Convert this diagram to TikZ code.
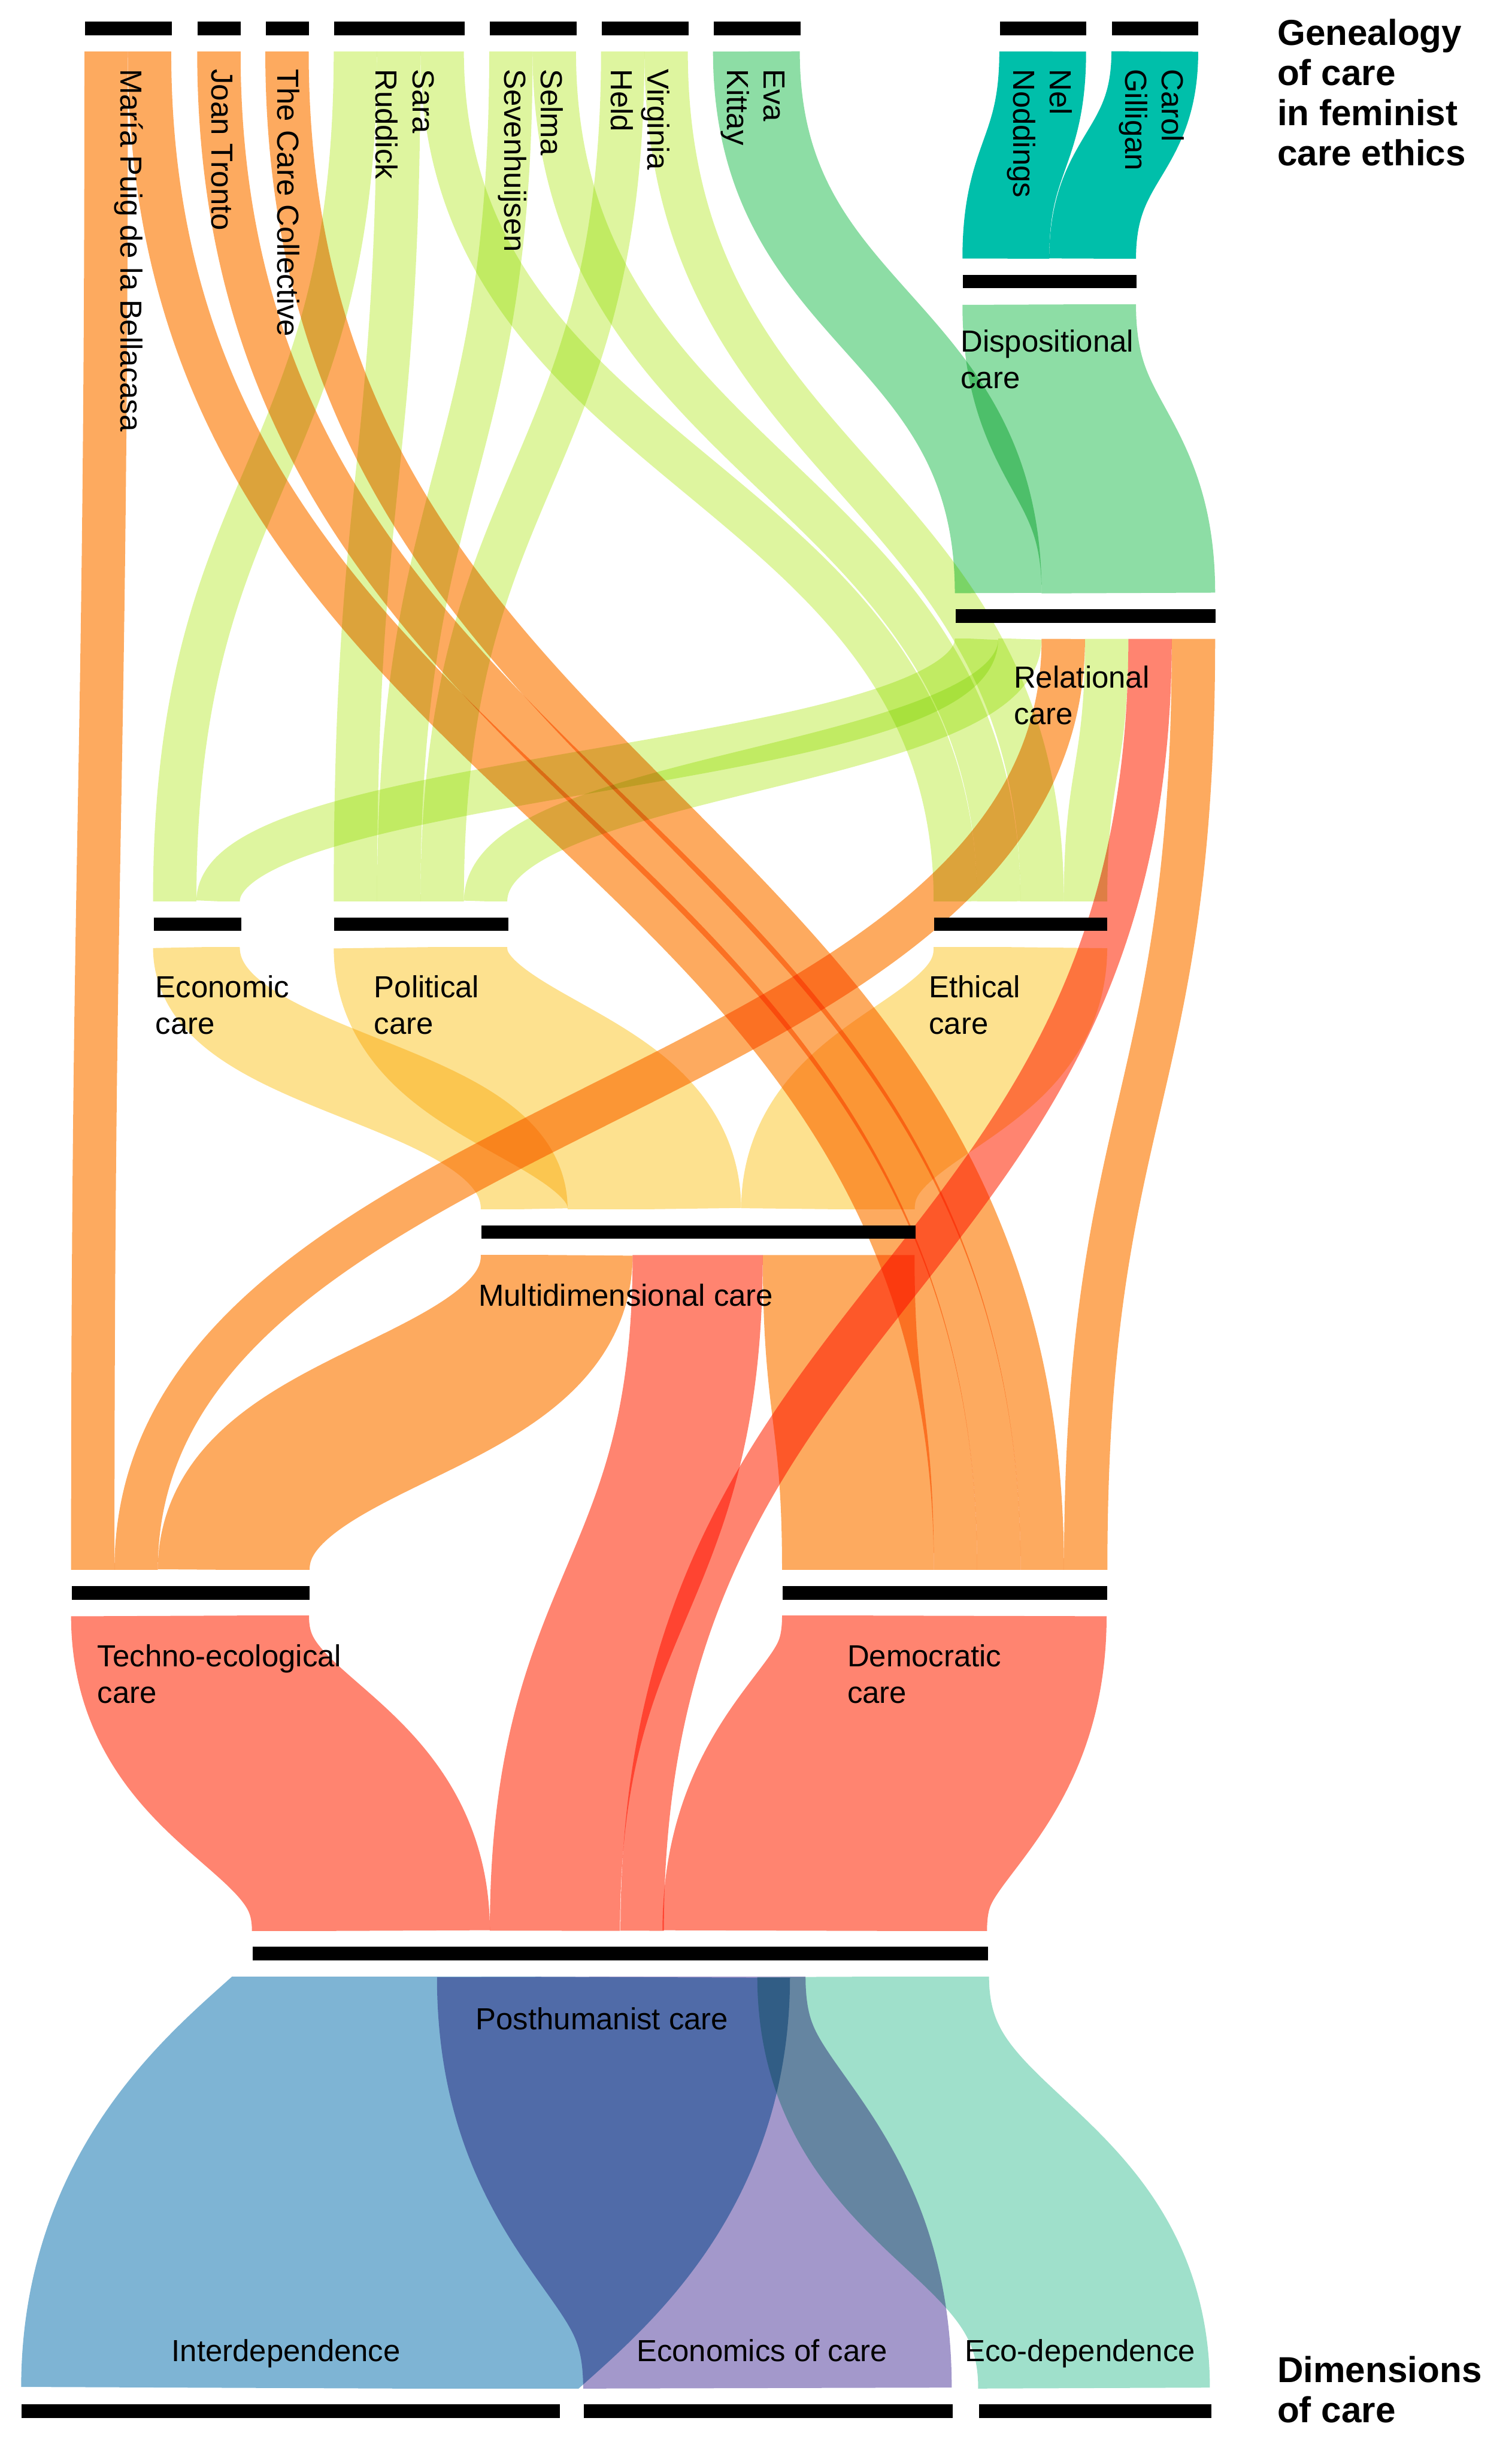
\documentclass[tikz,border=0pt]{standalone}
\usepackage{fontspec}
\setmainfont{Liberation Sans}
\usetikzlibrary{calc}
\definecolor{cteal}{RGB}{0,191,170}
\definecolor{cgreen}{RGB}{141,221,165}
\definecolor{clime}{RGB}{222,245,159}
\definecolor{cyellow}{RGB}{253,225,143}
\definecolor{corange}{RGB}{253,170,95}
\definecolor{csalmon}{RGB}{255,132,112}
\definecolor{cblue}{RGB}{126,180,212}
\definecolor{clilac}{RGB}{163,152,203}
\definecolor{cmint}{RGB}{159,224,203}
% colour, source, offset in source, target, offset in target, width
\newcommand{\ribbon}[6]{%
  \path (#2.south west) ++({#3+#6/2},10) coordinate (ra)
        (#4.north west) ++({#5+#6/2},-10) coordinate (rb)
        ($(ra)!0.5!(rb)$) coordinate (rm);
  \begin{scope}
    \clip ($(ra)+(-1000,0)$) rectangle ($(rb)+(1000,0)$);
    \draw[#1,line width=#6*0.5pt] (ra) .. controls (ra |- rm) and (rb |- rm) .. (rb);
  \end{scope}
}
\begin{document}
\begin{tikzpicture}[x=0.5pt,y=0.5pt,yscale=-1,
    bar/.style={fill=black,inner sep=0pt,minimum height=4.35pt,anchor=west},
    lbl/.style={anchor=north west,inner sep=0pt,align=left,font=\fontsize{9.8}{11.8}\selectfont},
    author/.style={lbl,rotate=-90},
    head/.style={anchor=north west,inner sep=0pt,align=left,font=\bfseries\fontsize{11.6}{12.9}\selectfont}]
\useasboundingbox (0,0) rectangle (972,1568);
% bars
\node[bar,minimum width=27.95pt] (maria) at (54.3,18.35) {};
\node[bar,minimum width=13.75pt] (tronto) at (126.8,18.35) {};
\node[bar,minimum width=13.9pt] (carecoll) at (170.6,18.35) {};
\node[bar,minimum width=41.85pt] (ruddick) at (214.6,18.35) {};
\node[bar,minimum width=27.95pt] (sevenhuijsen) at (314.6,18.35) {};
\node[bar,minimum width=27.9pt] (held) at (386.5,18.35) {};
\node[bar,minimum width=27.9pt] (kittay) at (458.5,18.35) {};
\node[bar,minimum width=27.8pt] (noddings) at (642.6,18.35) {};
\node[bar,minimum width=27.8pt] (gilligan) at (714.7,18.35) {};
\node[bar,minimum width=55.85pt] (disp) at (618.9,181) {};
\node[bar,minimum width=83.7pt] (relational) at (614,396) {};
\node[bar,minimum width=28.25pt] (economic) at (98.4,594.2) {};
\node[bar,minimum width=55.9pt] (political) at (214.6,594.2) {};
\node[bar,minimum width=55.6pt] (ethical) at (600.4,594.2) {};
\node[bar,minimum width=139.6pt] (multidim) at (309.2,792.1) {};
\node[bar,minimum width=76.5pt] (techno) at (45.7,1024) {};
\node[bar,minimum width=104.35pt] (democratic) at (502.9,1024) {};
\node[bar,minimum width=236.5pt] (posthuman) at (162,1256) {};
\node[bar,minimum width=173pt] (interdep) at (13.6,1550) {};
\node[bar,minimum width=118.7pt] (econcare) at (375,1550) {};
\node[bar,minimum width=74.75pt] (ecodep) at (629,1550) {};
% flows
\begin{scope}[blend mode=multiply]
\ribbon{cteal}{noddings}{0}{disp}{0}{55.8}
\ribbon{cteal}{gilligan}{0}{disp}{55.8}{55.8}
\ribbon{cgreen}{kittay}{0}{relational}{0}{55.8}
\ribbon{cgreen}{disp}{0}{relational}{55.8}{111.6}
\ribbon{clime}{ruddick}{0}{economic}{0}{27.9}
\ribbon{clime}{ruddick}{27.9}{political}{0}{27.9}
\ribbon{clime}{ruddick}{55.8}{ethical}{0}{27.9}
\ribbon{clime}{sevenhuijsen}{0}{political}{27.9}{27.9}
\ribbon{clime}{sevenhuijsen}{27.9}{ethical}{27.9}{27.9}
\ribbon{clime}{held}{0}{political}{55.8}{27.9}
\ribbon{clime}{held}{27.9}{ethical}{55.8}{27.9}
\ribbon{clime}{relational}{0}{economic}{27.9}{27.9}
\ribbon{clime}{relational}{27.9}{political}{83.7}{27.9}
\ribbon{clime}{relational}{83.7}{ethical}{83.7}{27.9}
\ribbon{corange}{relational}{55.8}{techno}{27.9}{27.9}
\ribbon{csalmon}{relational}{111.6}{posthuman}{237}{27.9}
\ribbon{corange}{relational}{139.5}{democratic}{181.3}{27.9}
\ribbon{corange}{maria}{0}{techno}{0}{27.9}
\ribbon{corange}{maria}{27.9}{democratic}{97.6}{27.9}
\ribbon{corange}{tronto}{0}{democratic}{125.5}{27.9}
\ribbon{corange}{carecoll}{0}{democratic}{153.4}{27.9}
\ribbon{cyellow}{economic}{0}{multidim}{0}{55.8}
\ribbon{cyellow}{political}{0}{multidim}{55.8}{111.6}
\ribbon{cyellow}{ethical}{0}{multidim}{167.4}{111.6}
\ribbon{corange}{multidim}{0}{techno}{55.8}{97.6}
\ribbon{csalmon}{multidim}{97.6}{posthuman}{153}{83.7}
\ribbon{corange}{multidim}{181.3}{democratic}{0}{97.6}
\ribbon{csalmon}{techno}{0}{posthuman}{0}{153}
\ribbon{csalmon}{democratic}{0}{posthuman}{264}{208.7}
\ribbon{cblue}{posthuman}{0}{interdep}{0}{346}
\ribbon{clilac}{posthuman}{119}{econcare}{0}{237}
\ribbon{cmint}{posthuman}{325}{ecodep}{0}{149}
\end{scope}
% labels
\node[author] (tmaria) at (92.5,44) {María Puig de la Bellacasa};
\node[author] (ttronto) at (150,44) {Joan Tronto};
\node[author] (tcarecoll) at (193,44) {The Care Collective};
\node[author] (truddick) at (279.5,44) {Sara\\Ruddick};
\node[author] (tsevenhuijsen) at (362.5,44) {Selma\\Sevenhuijsen};
\node[author] (theld) at (431,44) {Virginia\\Held};
\node[author] (tkittay) at (505,44) {Eva\\Kittay};
\node[author] (tnoddings) at (690,44) {Nel\\Noddings};
\node[author] (tgilligan) at (762,44) {Carol\\Gilligan};
\node[lbl] (tdisp) at (617.4,211.7) {Dispositional\\care};
\node[lbl] (trelational) at (651.6,427.7) {Relational\\care};
\node[lbl] (teconomic) at (99.7,626.7) {Economic\\care};
\node[lbl] (tpolitical) at (240.2,626.7) {Political\\care};
\node[lbl] (tethical) at (597,626.7) {Ethical\\care};
\node[lbl] (tmultidim) at (307.3,825.2) {Multidimensional care};
\node[lbl] (ttechno) at (62.3,1056.7) {Techno-ecological\\care};
\node[lbl] (tdemocratic) at (544.5,1056.7) {Democratic\\care};
\node[lbl] (tposthuman) at (305.6,1290) {Posthumanist care};
\node[lbl] (tinterdep) at (110,1503.7) {Interdependence};
\node[lbl] (teconcare) at (409,1503.7) {Economics of care};
\node[lbl] (tecodep) at (620,1503.7) {Eco-dependence};
\node[head] (genealogy) at (821,11.8) {Genealogy\\of care\\in feminist\\care ethics};
\node[head] (dimensions) at (821,1514.5) {Dimensions\\of care};
\end{tikzpicture}
\end{document}
